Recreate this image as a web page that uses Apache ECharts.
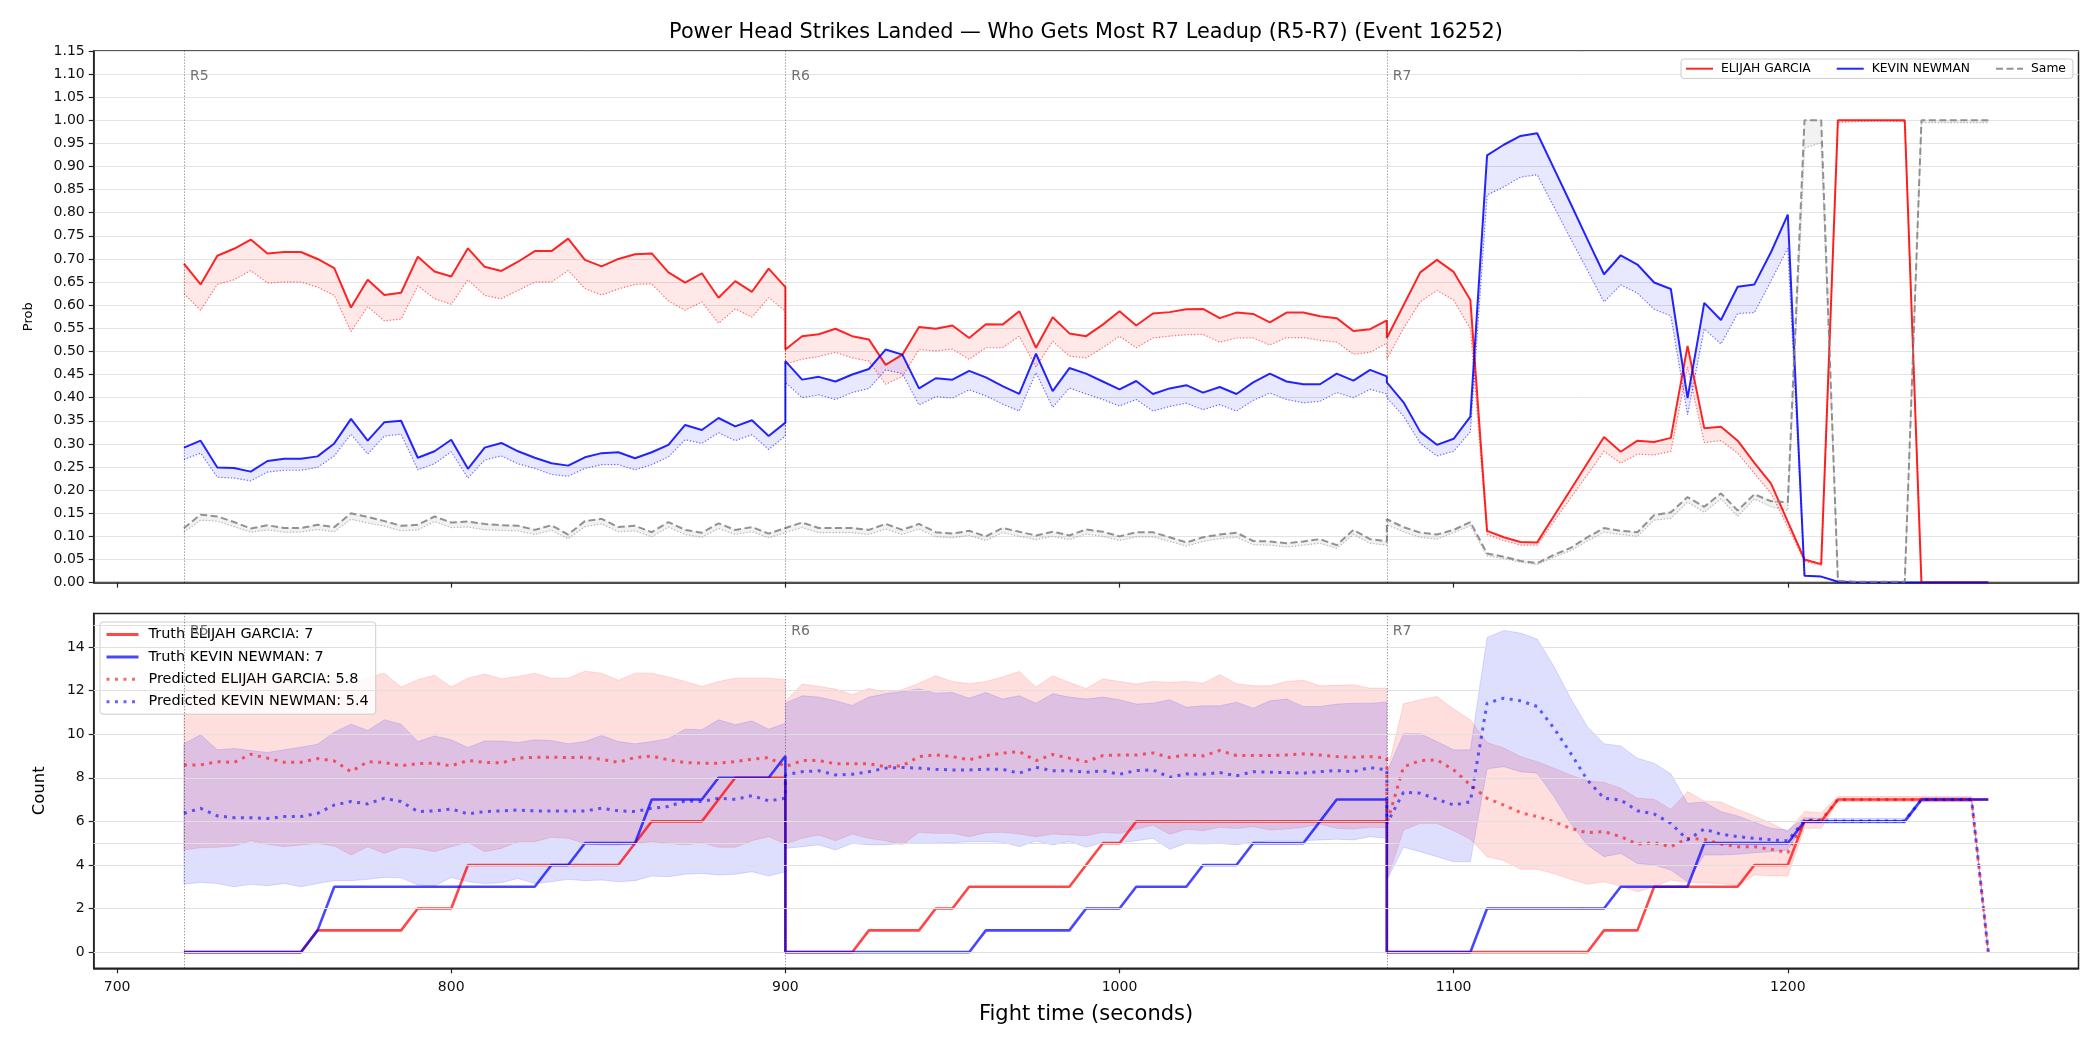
<!DOCTYPE html>
<html>
<head>
<meta charset="utf-8">
<script src="https://cdn.jsdelivr.net/npm/echarts@6/dist/echarts.min.js"></script>
<style>
  html, body { margin: 0; padding: 0; background: #fff; }
  #chart { width: 2100px; height: 1050px; }
</style>
</head>
<body>
<div id="chart"></div>
<script>
// sample times (s); each round starts again at its boundary
const TIME = [
  720,725,730,735,740,745,750,755,760,765,770,775,780,785,790,795,800,805,810,815,820,825,830,835,840,845,850,855,860,865,870,875,880,885,890,895,900,
  900,905,910,915,920,925,930,935,940,945,950,955,960,965,970,975,980,985,990,995,1000,1005,1010,1015,1020,1025,1030,1035,1040,1045,1050,1055,1060,1065,1070,1075,1080,
  1080,1085,1090,1095,1100,1105,1110,1115,1120,1125,1130,1135,1140,1145,1150,1155,1160,1165,1170,1175,1180,1185,1190,1195,1200,1205,1210,1215,1220,1225,1230,1235,1240,1245,1250,1255,1260
]
const ROUND_START = [720, 900, 1080]
const ROUND_NAME = ['R5', 'R6', 'R7']

// --- top panel: probabilities ---
const probGarcia = [
  .690,.645,.707,.722,.742,.712,.715,.715,.700,.680,.595,.655,.622,.627,.705,.673,.662,.723,.683,.674,.694,.717,.717,.744,.698,.684,.700,.710,.712,.671,.649,.669,.616,.652,.629,.679,.639,
  .504,.533,.537,.549,.533,.526,.471,.493,.553,.549,.556,.529,.559,.558,.587,.508,.574,.539,.533,.558,.587,.556,.582,.585,.591,.592,.572,.584,.581,.563,.584,.584,.576,.572,.544,.548,.567,
  .529,.600,.671,.698,.672,.611,.112,.098,.088,.087,.144,.201,.258,.315,.283,.307,.304,.313,.512,.334,.337,.307,.259,.214,.132,.050,.040,1,1,1,1,1,0,0,0,0,0
]
const probGarciaLow = [
  .625,.589,.645,.655,.675,.648,.650,.650,.639,.621,.543,.597,.566,.570,.642,.614,.602,.655,.621,.614,.632,.650,.650,.675,.636,.622,.635,.645,.646,.609,.589,.607,.561,.592,.574,.616,.587,
  .473,.483,.489,.498,.486,.479,.429,.446,.504,.501,.505,.483,.508,.508,.533,.466,.522,.490,.486,.508,.533,.508,.529,.533,.536,.537,.520,.529,.529,.514,.530,.530,.524,.520,.494,.498,.518,
  .483,.550,.607,.632,.611,.549,.104,.091,.081,.081,.132,.183,.233,.284,.258,.278,.276,.284,.466,.303,.307,.280,.236,.193,.120,.046,.037,.995,.997,.998,.998,.997,0,0,0,0,0
]
const probNewman = [
  .292,.307,.249,.248,.240,.263,.268,.268,.273,.301,.354,.307,.347,.350,.270,.284,.309,.246,.292,.302,.284,.270,.258,.253,.271,.280,.282,.269,.282,.298,.341,.330,.356,.338,.351,.317,.346,
  .479,.439,.445,.435,.450,.462,.504,.493,.420,.442,.439,.458,.444,.425,.408,.495,.414,.464,.452,.435,.418,.436,.408,.420,.427,.411,.423,.408,.433,.452,.435,.429,.429,.452,.437,.460,.446,
  .433,.390,.326,.298,.311,.359,.924,.947,.966,.972,.896,.820,.743,.667,.708,.688,.649,.635,.399,.605,.568,.640,.645,.715,.796,.015,.013,.002,0,0,0,0,0,0,0,0,0
]
const probNewmanLow = [
  .266,.280,.228,.226,.220,.239,.243,.243,.249,.274,.321,.278,.317,.321,.244,.257,.283,.226,.265,.274,.257,.247,.234,.230,.247,.255,.255,.244,.255,.272,.309,.301,.324,.307,.320,.288,.317,
  .433,.400,.406,.396,.411,.420,.460,.452,.384,.402,.399,.417,.404,.386,.371,.454,.379,.421,.408,.396,.382,.396,.371,.381,.388,.374,.385,.371,.394,.410,.396,.389,.392,.411,.400,.418,.408,
  .400,.360,.301,.274,.284,.326,.838,.856,.877,.882,.813,.744,.676,.607,.644,.626,.591,.577,.363,.549,.516,.582,.584,.653,.723,.015,.013,.002,0,0,0,0,0,0,0,0,0
]
const probSame = [
  .118,.147,.143,.131,.117,.124,.118,.118,.125,.120,.150,.142,.133,.123,.125,.143,.130,.132,.127,.124,.123,.114,.124,.104,.133,.138,.120,.123,.109,.131,.114,.108,.128,.114,.120,.106,.118,
  .120,.130,.118,.118,.118,.114,.127,.114,.127,.109,.106,.112,.100,.118,.110,.102,.110,.102,.115,.110,.100,.109,.109,.098,.087,.098,.104,.108,.090,.089,.085,.089,.094,.081,.114,.094,.089,
  .137,.120,.108,.104,.114,.131,.063,.056,.047,.042,.060,.075,.098,.118,.112,.109,.146,.152,.185,.164,.193,.156,.191,.176,.174,1,1,.004,.002,.002,.002,.002,1,1,1,1,1
]
const probSameLow = [
  .109,.135,.133,.121,.109,.114,.109,.109,.115,.110,.137,.129,.122,.112,.114,.132,.119,.120,.114,.113,.112,.104,.113,.095,.121,.127,.110,.112,.099,.120,.104,.098,.117,.104,.110,.097,.108,
  .110,.119,.108,.108,.108,.104,.116,.104,.116,.099,.097,.102,.091,.108,.100,.093,.100,.093,.105,.100,.091,.099,.099,.089,.079,.089,.095,.098,.082,.081,.077,.081,.085,.074,.104,.085,.081,
  .125,.110,.098,.094,.108,.123,.058,.052,.044,.039,.055,.069,.090,.109,.104,.100,.135,.139,.174,.152,.181,.143,.181,.164,.156,.940,.951,.004,.002,.002,.002,.002,.995,.995,.995,.995,.995
]

// --- bottom panel: counts ---
const truthGarcia = [
  0,0,0,0,0,0,0,0,1,1,1,1,1,1,2,2,2,4,4,4,4,4,4,4,4,4,4,5,6,6,6,6,7,8,8,8,8,
  0,0,0,0,0,1,1,1,1,2,2,3,3,3,3,3,3,3,4,5,5,6,6,6,6,6,6,6,6,6,6,6,6,6,6,6,6,
  0,0,0,0,0,0,0,0,0,0,0,0,0,1,1,1,3,3,3,3,3,3,4,4,4,6,6,7,7,7,7,7,7,7,7,7,7
]
const truthNewman = [
  0,0,0,0,0,0,0,0,1,3,3,3,3,3,3,3,3,3,3,3,3,3,4,4,5,5,5,5,7,7,7,7,8,8,8,8,9,
  0,0,0,0,0,0,0,0,0,0,0,0,1,1,1,1,1,1,2,2,2,3,3,3,3,4,4,4,5,5,5,5,6,7,7,7,7,
  0,0,0,0,0,0,2,2,2,2,2,2,2,2,3,3,3,3,3,5,5,5,5,5,5,6,6,6,6,6,6,6,7,7,7,7,7
]
const predGarcia = [
  8.59,8.59,8.74,8.70,9.08,8.90,8.71,8.71,8.88,8.77,8.28,8.74,8.70,8.55,8.65,8.67,8.55,8.79,8.71,8.68,8.90,8.94,8.94,8.93,8.94,8.85,8.71,8.93,9.00,8.82,8.70,8.67,8.67,8.74,8.85,8.93,8.51,
  8.51,8.79,8.79,8.64,8.64,8.64,8.51,8.55,8.97,9.05,8.97,8.82,9.02,9.13,9.20,8.79,9.07,8.90,8.74,9.02,9.04,9.04,9.14,8.93,9.05,9.00,9.25,9.02,9.02,9.02,9.05,9.10,9.04,8.97,8.94,8.97,8.90,
  5.9,8.5,8.79,8.82,8.36,7.67,7.06,6.75,6.40,6.22,5.99,5.68,5.48,5.53,5.30,4.96,5.02,4.84,5.22,5.18,4.96,4.84,4.84,4.72,4.56,6.06,6.06,7,7,7,7,7,7,7,7,7,0
]
const predNewman = [
  6.37,6.60,6.25,6.17,6.17,6.13,6.22,6.22,6.37,6.75,6.91,6.80,7.06,6.91,6.45,6.48,6.57,6.34,6.45,6.48,6.52,6.48,6.48,6.48,6.48,6.60,6.48,6.45,6.60,6.68,6.94,6.91,7.06,7.01,7.18,6.94,7.06,
  8.13,8.28,8.32,8.13,8.16,8.28,8.44,8.47,8.44,8.39,8.36,8.36,8.39,8.39,8.21,8.48,8.32,8.32,8.25,8.32,8.16,8.33,8.36,8.02,8.18,8.16,8.24,8.09,8.28,8.25,8.24,8.21,8.28,8.33,8.28,8.47,8.36,
  5.9,7.34,7.29,7.01,6.75,6.9,11.42,11.65,11.53,11.27,10.28,9.13,7.90,7.06,6.98,6.49,6.34,5.91,5.15,5.65,5.41,5.30,5.22,5.15,5.11,6.06,6.02,6.02,6.02,6.02,6.02,6.02,7,7,7,7,0
]
const garciaHigh = [
  12.2,12.5,12.6,12.7,12.9,12.7,12.6,12.6,12.7,12.5,12.2,12.6,12.8,12.16,12.5,12.7,12.16,12.57,12.76,12.54,12.65,12.8,12.56,12.57,12.89,12.8,12.47,12.8,12.8,12.62,12.42,12.19,12.42,12.57,12.57,12.57,12.5,
  11.5,12.3,12.19,12.07,11.81,12.1,11.93,12.04,12.34,12.68,12.42,12.31,12.42,12.62,12.88,12.16,12.68,12.37,12.1,12.53,12.42,12.3,12.42,12.37,12.42,12.34,12.73,12.31,12.22,12.22,12.42,12.47,12.22,12.24,12.27,12.11,12.11,
  8.2,11.39,11.58,11.73,11.15,10.66,9.62,9.36,8.97,8.74,8.44,8.13,7.86,7.78,7.52,7.06,7.01,6.55,7.37,6.94,6.89,6.55,6.25,5.91,5.53,6.45,6.40,7.14,7.14,7.14,7.14,7.14,7.14,7.14,7.14,7.14,0
]
const garciaLow = [
  4.69,4.79,4.81,4.87,5.11,4.95,4.84,4.92,4.99,4.87,4.46,4.84,4.53,4.81,4.76,4.61,4.84,5.04,4.61,4.76,5.07,5.07,5.27,5.22,4.99,4.92,4.92,4.99,5.07,4.99,4.92,5.02,4.81,4.81,5.11,5.30,4.96,
  4.96,5.22,5.38,5.11,5.42,5.22,5.11,4.92,5.50,5.45,5.45,5.30,5.48,5.50,5.42,5.30,5.42,5.38,5.34,5.50,5.45,5.64,5.83,5.41,5.64,5.57,5.73,5.67,5.76,5.60,5.65,5.73,5.87,5.68,5.65,5.73,5.71,
  3.3,5.6,5.91,5.91,5.57,5.18,4.38,4.20,3.80,3.80,3.61,3.34,3.11,3.23,3.03,2.77,3.00,3.31,3.20,3.19,3.15,3.03,3.54,3.51,3.49,5.68,5.68,6.91,6.91,6.91,6.91,6.91,6.91,6.91,6.91,6.91,0
]
const newmanHigh = [
  9.56,9.97,9.28,9.34,9.25,9.16,9.28,9.40,9.54,10.09,10.46,10.17,10.66,10.46,9.66,9.92,9.74,9.39,9.69,9.69,9.62,9.74,9.71,9.56,9.66,9.94,9.66,9.56,9.66,9.79,10.23,10.2,10.66,10.43,10.61,10.23,10.5,
  11.42,11.76,11.70,11.53,11.32,11.70,11.85,11.96,12.08,11.88,11.91,11.65,11.91,11.61,11.76,11.42,11.85,11.70,11.61,11.70,11.58,11.38,11.42,11.58,11.24,11.30,11.30,11.47,11.19,11.53,11.61,11.27,11.27,11.38,11.42,11.42,11.47,
  8.24,10.02,10.02,9.66,9.28,9.28,14.44,14.76,14.64,14.36,13.11,11.65,10.35,9.56,9.46,8.90,8.67,8.18,6.83,6.88,6.45,6.25,5.96,5.68,5.60,6.17,6.14,6.14,6.14,6.14,6.14,6.14,7.1,7.1,7.1,7.1,0
]
const newmanLow = [
  3.12,3.20,3.15,3.00,3.11,3.05,3.15,3.00,3.15,3.28,3.28,3.34,3.43,3.41,3.08,3.03,3.43,3.23,3.15,3.19,3.38,3.15,3.23,3.34,3.28,3.31,3.23,3.28,3.49,3.46,3.58,3.61,3.54,3.58,3.69,3.49,3.69,
  4.76,4.84,4.92,4.69,4.99,4.92,4.92,4.99,4.99,4.99,5.02,5.07,5.07,5.04,4.84,5.10,4.92,5.07,4.81,5.02,5.02,5.11,5.22,4.72,4.99,4.96,4.99,4.92,5.04,5.11,5.11,5.11,5.15,5.18,5.15,5.30,5.22,
  3.3,4.81,4.61,4.38,4.15,4.15,8.41,8.51,8.28,8.21,7.14,5.91,4.92,4.38,4.53,4.07,4.00,3.77,3.23,4.46,4.46,4.49,4.56,4.61,4.69,5.91,5.91,5.91,5.91,5.91,5.91,5.91,6.91,6.91,6.91,6.91,0
]

const X_TICKS = [700, 800, 900, 1000, 1100, 1200]
const COUNT_TICKS = [0, 2, 4, 6, 8, 10, 12, 14]
const COUNT_GRID = [0, 2, 4, 5, 6, 8, 10, 12, 14, 15]

const FONT = 'DejaVu Sans'
const pairs = (vals) => TIME.map((t, i) => [t, vals[i]])

const lineSeries = (name, vals, color, width, type, g, z) => ({
  type: 'line', name, xAxisIndex: g, yAxisIndex: g,
  data: pairs(vals), symbol: 'none', showSymbol: false, silent: true, z,
  lineStyle: { color, width, type }, itemStyle: { color }
})

// filled region between two lines, one polygon
const bandSeries = (high, low, fill, stroke, g) => ({
  type: 'custom', xAxisIndex: g, yAxisIndex: g, silent: true, z: 1,
  data: [[TIME[0], low[0]]],
  renderItem: (params, api) => {
    const pts = []
    for (let i = 0; i < TIME.length; i++) pts.push(api.coord([TIME[i], high[i]]))
    for (let i = TIME.length - 1; i >= 0; i--) pts.push(api.coord([TIME[i], low[i]]))
    return { type: 'polygon', shape: { points: pts }, style: { fill, stroke, lineWidth: 1 } }
  }
})

const roundMarks = (g, labelY) => ({
  type: 'line', xAxisIndex: g, yAxisIndex: g, data: [], silent: true, z: 2,
  markLine: {
    silent: true, symbol: 'none', animation: false,
    label: { show: false },
    lineStyle: { color: 'rgba(0,0,0,0.55)', width: 1, type: [1, 2] },
    data: ROUND_START.map(t => ({ xAxis: t }))
  },
  markPoint: {
    silent: true, symbol: 'circle', symbolSize: 0, animation: false,
    label: { show: true, position: 'right', distance: 6, formatter: '{b}', color: '#707070', fontFamily: FONT, fontSize: 14 },
    data: ROUND_START.map((t, i) => ({ name: ROUND_NAME[i], coord: [t, labelY] }))
  }
})

const chart = echarts.init(document.getElementById('chart'))

const axisLineStyle = { show: true, onZero: false, lineStyle: { color: '#222', width: 1.5 } }
const tickStyle = { show: true, length: 5, lineStyle: { color: '#222', width: 1.2 } }
const labelStyle = { color: '#111', fontFamily: FONT, fontSize: 14 }
// legend icons: line only, no marker
const noMarker = { color: 'transparent', borderColor: 'transparent', borderWidth: 0, opacity: 0 }

chart.setOption({
  animation: false,
  backgroundColor: '#fff',
  title: {
    text: 'Power Head Strikes Landed — Who Gets Most R7 Leadup (R5-R7) (Event 16252)',
    left: 1081, top: 17, textAlign: 'center',
    textStyle: { fontFamily: FONT, fontSize: 20.8, fontWeight: 'normal', color: '#000' }
  },
  grid: [
    { left: 93.7, top: 50.9, width: 1984.8, height: 531.7, show: true, borderColor: '#222', borderWidth: 1.5, containLabel: false },
    { left: 93.7, top: 613.4, width: 1984.8, height: 354.9, show: true, borderColor: '#222', borderWidth: 1.5, containLabel: false }
  ],
  legend: [
    {
      data: ['ELIJAH GARCIA', 'KEVIN NEWMAN', 'Same'],
      left: 1681, top: 59, orient: 'horizontal',
      padding: [3.7, 7, 3.7, 4], itemWidth: 27, itemHeight: 14, itemGap: 25,
      backgroundColor: 'rgba(255,255,255,0.8)', borderColor: '#cccccc', borderWidth: 1, borderRadius: 3,
      selectedMode: false, itemStyle: noMarker,
      lineStyle: { width: 2 },
      textStyle: { fontFamily: FONT, fontSize: 12.3, color: '#000', padding: [0, 0, 0, 3] }
    },
    {
      data: ['Truth ELIJAH GARCIA: 7', 'Truth KEVIN NEWMAN: 7', 'Predicted ELIJAH GARCIA: 5.8', 'Predicted KEVIN NEWMAN: 5.4'],
      left: 100, top: 622, orient: 'vertical',
      padding: [4.5, 7, 4.5, 5], itemWidth: 32, itemHeight: 14, itemGap: 6.4,
      backgroundColor: 'rgba(255,255,255,0.8)', borderColor: '#cccccc', borderWidth: 1, borderRadius: 3,
      selectedMode: false, itemStyle: noMarker,
      lineStyle: { width: 3 },
      textStyle: { fontFamily: FONT, fontSize: 14.45, color: '#000', lineHeight: 16, padding: [0, 0, 0, 5] }
    }
  ],
  xAxis: [
    {
      type: 'value', gridIndex: 0, min: 693, max: 1287,
      axisLine: axisLineStyle,
      axisTick: Object.assign({ customValues: X_TICKS }, tickStyle),
      axisLabel: { show: false },
      splitLine: { show: false }
    },
    {
      type: 'value', gridIndex: 1, min: 693, max: 1287,
      name: 'Fight time (seconds)', nameLocation: 'middle', nameGap: 36,
      nameTextStyle: { fontFamily: FONT, fontSize: 21, color: '#000' },
      axisLine: axisLineStyle,
      axisTick: Object.assign({ customValues: X_TICKS }, tickStyle),
      axisLabel: Object.assign({ customValues: X_TICKS, margin: 12, formatter: v => String(v) }, labelStyle),
      splitLine: { show: false }
    }
  ],
  yAxis: [
    {
      type: 'value', gridIndex: 0, min: 0, max: 1.15, interval: 0.05,
      name: 'Prob', nameLocation: 'middle', nameGap: 59,
      nameTextStyle: { fontFamily: FONT, fontSize: 13, color: '#000' },
      axisLine: axisLineStyle, axisTick: tickStyle,
      axisLabel: Object.assign({ margin: 9, formatter: v => v.toFixed(2) }, labelStyle),
      splitLine: { show: true, lineStyle: { color: '#e4e4e4', width: 1 } }
    },
    {
      type: 'value', gridIndex: 1, min: -0.74, max: 15.54,
      name: 'Count', nameLocation: 'middle', nameGap: 45,
      nameTextStyle: { fontFamily: FONT, fontSize: 16.5, color: '#000' },
      axisLine: axisLineStyle,
      axisTick: Object.assign({ customValues: COUNT_TICKS }, tickStyle),
      axisLabel: Object.assign({ customValues: COUNT_TICKS, margin: 9 }, labelStyle),
      splitLine: { show: false }
    }
  ],
  series: [
    // top panel
    bandSeries(probGarcia, probGarciaLow, 'rgba(255,0,0,0.09)', 'rgba(255,0,0,0.05)', 0),
    bandSeries(probNewman, probNewmanLow, 'rgba(0,0,255,0.09)', 'rgba(0,0,255,0.05)', 0),
    bandSeries(probSame, probSameLow, 'rgba(128,128,128,0.1)', 'rgba(128,128,128,0.05)', 0),
    lineSeries('ELIJAH GARCIA low', probGarciaLow, 'rgba(255,0,0,0.55)', 1.2, [1.2, 2], 0, 3),
    lineSeries('KEVIN NEWMAN low', probNewmanLow, 'rgba(0,0,255,0.55)', 1.2, [1.2, 2], 0, 3),
    lineSeries('Same low', probSameLow, 'rgba(128,128,128,0.55)', 1.2, [1.2, 2], 0, 3),
    lineSeries('ELIJAH GARCIA', probGarcia, 'rgba(255,0,0,0.85)', 2, 'solid', 0, 4),
    lineSeries('KEVIN NEWMAN', probNewman, 'rgba(0,0,255,0.85)', 2, 'solid', 0, 4),
    lineSeries('Same', probSame, 'rgba(128,128,128,0.85)', 2, [7, 3.5], 0, 4),
    roundMarks(0, 1.095),

    // bottom panel
    bandSeries(garciaHigh, garciaLow, 'rgba(255,0,0,0.13)', 'rgba(255,0,0,0.12)', 1),
    bandSeries(newmanHigh, newmanLow, 'rgba(0,0,255,0.13)', 'rgba(0,0,255,0.12)', 1),
    {
      type: 'line', xAxisIndex: 1, yAxisIndex: 1, data: [], silent: true, z: 1.5,
      markLine: {
        silent: true, symbol: 'none', animation: false, label: { show: false },
        lineStyle: { color: '#e0e0e0', width: 1, type: 'solid' },
        data: COUNT_GRID.map(v => ({ yAxis: v }))
      }
    },
    lineSeries('Truth ELIJAH GARCIA: 7', truthGarcia, 'rgba(255,0,0,0.72)', 2.6, 'solid', 1, 3),
    lineSeries('Truth KEVIN NEWMAN: 7', truthNewman, 'rgba(0,0,255,0.72)', 2.6, 'solid', 1, 3),
    lineSeries('Predicted ELIJAH GARCIA: 5.8', predGarcia, 'rgba(255,0,0,0.6)', 3, [3, 5.5], 1, 4),
    lineSeries('Predicted KEVIN NEWMAN: 5.4', predNewman, 'rgba(0,0,255,0.6)', 3, [3, 5.5], 1, 4),
    roundMarks(1, 14.7)
  ]
})
</script>
</body>
</html>
